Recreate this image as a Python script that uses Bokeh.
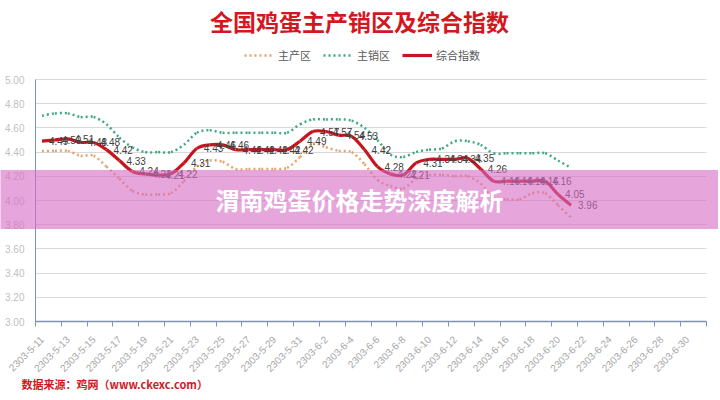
from datetime import date
import numpy as np
from bokeh.plotting import figure
from bokeh.models import (Range1d, FixedTicker, Label, Legend, LegendItem,
                          ColumnDataSource, NumeralTickFormatter)
from bokeh.core.properties import value
from bokeh.embed import file_html
from bokeh.resources import INLINE

# ---------------- data ----------------
title_text = "全国鸡蛋主产销区及综合指数"
banner_text = "渭南鸡蛋价格走势深度解析"
source_text = "数据来源：鸡网（www.ckexc.com）"
series_names = ["主产区", "主销区", "综合指数"]

tick_labels = ["2303-5-11", "2303-5-13", "2303-5-15", "2303-5-17", "2303-5-19",
               "2303-5-21", "2303-5-23", "2303-5-25", "2303-5-27", "2303-5-29",
               "2303-5-31", "2303-6-2", "2303-6-4", "2303-6-6", "2303-6-8",
               "2303-6-10", "2303-6-12", "2303-6-14", "2303-6-16", "2303-6-18",
               "2303-6-20", "2303-6-22", "2303-6-24", "2303-6-26", "2303-6-28",
               "2303-6-30"]
y_ticks = [3.0, 3.2, 3.4, 3.6, 3.8, 4.0, 4.2, 4.4, 4.6, 4.8, 5.0]

# daily values starting 2303-5-11
main_prod = [4.41, 4.41, 4.41, 4.37, 4.37, 4.28, 4.18, 4.08, 4.05, 4.05,
             4.06, 4.16, 4.28, 4.33, 4.32, 4.26, 4.26, 4.26, 4.26, 4.27,
             4.36, 4.47, 4.44, 4.41, 4.40, 4.30, 4.17, 4.12, 4.10, 4.18,
             4.21, 4.21, 4.20, 4.20, 4.14, 4.02, 4.01, 4.01, 4.06, 4.06,
             3.96, 3.86]
main_sales = [4.70, 4.72, 4.72, 4.69, 4.69, 4.63, 4.52, 4.44, 4.40, 4.40,
              4.40, 4.46, 4.56, 4.58, 4.56, 4.56, 4.56, 4.56, 4.56, 4.56,
              4.63, 4.67, 4.67, 4.67, 4.66, 4.60, 4.50, 4.38, 4.36, 4.40,
              4.42, 4.43, 4.49, 4.49, 4.46, 4.39, 4.39, 4.39, 4.39, 4.39,
              4.33, 4.27]
composite = [4.49, 4.50, 4.51, 4.48, 4.48, 4.42, 4.33, 4.24, 4.22, 4.21,
             4.22, 4.31, 4.43, 4.46, 4.46, 4.42, 4.42, 4.42, 4.42, 4.42,
             4.49, 4.57, 4.57, 4.54, 4.53, 4.42, 4.28, 4.22, 4.21, 4.31,
             4.34, 4.34, 4.34, 4.35, 4.26, 4.16, 4.16, 4.16, 4.16, 4.16,
             4.05, 3.96]

# ---------------- helpers ----------------
def parse(s):
    y, m, d = map(int, s.split("-"))
    return date(y, m, d)

d0 = parse(tick_labels[0])
tick_pos = [(parse(s) - d0).days for s in tick_labels]
days = np.arange(len(composite))          # consecutive daily observations
n_slots = tick_pos[-1] + 2                # axis runs to the end of the next day

def smooth_segments(xs, ys):
    xs = np.asarray(xs, float)
    ys = np.asarray(ys, float)
    qx = np.concatenate([[xs[0]], xs, [xs[-1]]])
    qy = np.concatenate([[ys[0]], ys, [ys[-1]]])
    n = len(xs)
    return dict(
        x0=qx[1:n], y0=qy[1:n], x1=qx[2:n + 1], y1=qy[2:n + 1],
        cx0=qx[1:n] + (qx[2:n + 1] - qx[0:n - 1]) / 6.0,
        cy0=qy[1:n] + (qy[2:n + 1] - qy[0:n - 1]) / 6.0,
        cx1=qx[2:n + 1] - (qx[3:n + 2] - qx[1:n]) / 6.0,
        cy1=qy[2:n + 1] - (qy[3:n + 2] - qy[1:n]) / 6.0,
    )

# ---------------- layout (page pixels) ----------------
OFF = 1
W, H = 718, 398
PL, PR, PT, PB = 36, 707, 80, 322        # plot area edges on the page

x_lo, x_hi = -0.5, n_slots - 0.5
y_lo, y_hi = y_ticks[0], y_ticks[-1]
kx = (x_hi - x_lo) / (PR - PL)
ky = (y_hi - y_lo) / (PB - PT)
x_start = x_lo - (PL - OFF) * kx
x_end = x_hi + (OFF + W - PR) * kx
y_start = y_lo - (OFF + H - PB) * ky
y_end = y_hi + (PT - OFF) * ky

def scr(px, py):
    return px - OFF, (OFF + H) - py

CJK = "Noto Sans CJK SC"
NUM = "Liberation Sans"
AXIS_COLOR = "#7F93B0"
RED = "#D2171F"

p = figure(width=W, height=H, output_backend="svg", toolbar_location=None,
           title=None,
           x_range=Range1d(x_start, x_end), y_range=Range1d(y_start, y_end),
           min_border_left=0, min_border_right=0, min_border_top=0,
           min_border_bottom=0)
p.outline_line_color = None
p.background_fill_color = "white"
p.border_fill_color = "white"

# x axis
xa = p.xaxis[0]
xa.fixed_location = y_lo
xa.bounds = (x_lo, x_hi)
xa.ticker = FixedTicker(ticks=tick_pos,
                        minor_ticks=[t - 0.5 for t in tick_pos] + [x_hi])
xa.major_label_overrides = {t: s for t, s in zip(tick_pos, tick_labels)}
xa.major_label_orientation = np.pi / 4
xa.major_tick_line_color = None
xa.minor_tick_line_color = AXIS_COLOR
xa.minor_tick_in = 0
xa.minor_tick_out = 5
xa.axis_line_color = AXIS_COLOR
xa.axis_line_width = 1.5
xa.major_label_text_color = "#A6A6A6"
xa.major_label_text_font = NUM
xa.major_label_text_font_size = "10px"
xa.major_label_standoff = 10
p.xgrid.visible = False

# y axis
ya = p.yaxis[0]
ya.fixed_location = x_lo
ya.bounds = (y_lo, y_hi)
ya.ticker = FixedTicker(ticks=y_ticks)
ya.formatter = NumeralTickFormatter(format="0.00")
ya.major_tick_out = 0
ya.major_tick_in = 0
ya.minor_tick_line_color = None
ya.axis_line_color = AXIS_COLOR
ya.major_label_text_color = "#BFBFBF"
ya.major_label_text_font = NUM
ya.major_label_text_font_size = "10px"
ya.major_label_standoff = 11

yg = p.ygrid[0]
yg.grid_line_color = "#D9D9D9"
try:
    yg.cross_bounds = (x_lo, x_hi)
except Exception:
    yg.visible = False
    p.segment(x0=x_lo, x1=x_hi, y0=y_ticks, y1=y_ticks, line_color="#D9D9D9",
              line_width=1, level="underlay")

# series
r_prod = p.bezier(source=ColumnDataSource(smooth_segments(days, main_prod)),
                  x0="x0", y0="y0", x1="x1", y1="y1", cx0="cx0", cy0="cy0",
                  cx1="cx1", cy1="cy1", line_color="#E8A26A", line_width=2.5,
                  line_dash="2 3")
r_sales = p.bezier(source=ColumnDataSource(smooth_segments(days, main_sales)),
                   x0="x0", y0="y0", x1="x1", y1="y1", cx0="cx0", cy0="cy0",
                   cx1="cx1", cy1="cy1", line_color="#3FA87F", line_width=2.5,
                   line_dash="2 3")
r_comp = p.bezier(source=ColumnDataSource(smooth_segments(days, composite)),
                  x0="x0", y0="y0", x1="x1", y1="y1", cx0="cx0", cy0="cy0",
                  cx1="cx1", cy1="cy1", line_color="#C8141E", line_width=3.2)

lbl_src = ColumnDataSource(dict(x=days, y=composite,
                                t=[f"{v:.2f}" for v in composite]))
p.text(x="x", y="y", text="t", source=lbl_src, x_offset=7,
       text_baseline="middle", text_align="left", text_color="#404040",
       text_font=value(NUM), text_font_size="10px")

# legend (location = bottom-left corner of the legend box)
lx, ly = scr(245, 64)
legend = Legend(items=[LegendItem(label=series_names[0], renderers=[r_prod]),
                       LegendItem(label=series_names[1], renderers=[r_sales]),
                       LegendItem(label=series_names[2], renderers=[r_comp])],
                orientation="horizontal", location=(lx, ly),
                glyph_width=30, glyph_height=14, label_height=14,
                label_standoff=4, spacing=12, padding=0, margin=0,
                border_line_color=None, background_fill_alpha=0,
                label_text_font=CJK, label_text_font_size="11px",
                label_text_color="#595959")
p.add_layout(legend)

tx, ty = scr(360, 21)
p.add_layout(Label(x=tx, y=ty, x_units="screen", y_units="screen",
                   text=title_text, text_align="center", text_baseline="middle",
                   text_font=CJK, text_font_size="23px", text_font_style="bold",
                   text_color=RED))

sx_, sy_ = scr(22, 384)
p.add_layout(Label(x=sx_, y=sy_, x_units="screen", y_units="screen",
                   text=source_text, text_align="left", text_baseline="middle",
                   text_font=CJK, text_font_size="11px", text_font_style="bold",
                   text_color=RED))

bx, by = scr(360, 200)
p.add_layout(Label(x=bx, y=by, x_units="screen", y_units="screen",
                   text=banner_text, text_align="center", text_baseline="middle",
                   text_font=CJK, text_font_size="24px", text_font_style="bold",
                   text_color="white",
                   background_fill_color="#D66BC4", background_fill_alpha=0.6,
                   padding=dict(left=240, right=240, top=12, bottom=12)))

open("out.html", "w").write(file_html(p, INLINE))
